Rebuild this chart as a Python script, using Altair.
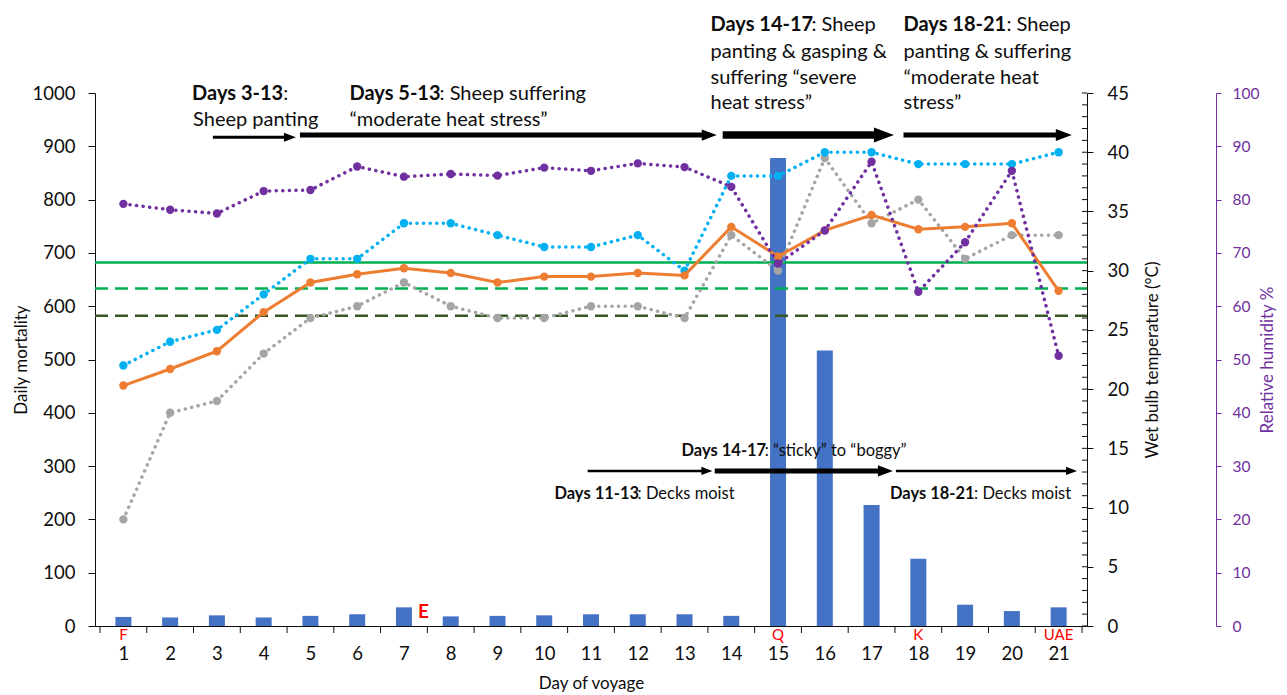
import altair as alt
import pandas as pd

FONT = "Lato"
BLACK = "#0d0d0d"
PURPLE = "#7030A0"

# ---------------- data ----------------
days = list(range(1, 22))
mortality = [17, 16, 20, 16, 19, 22, 35, 18, 19, 20, 22, 22, 22, 19, 878, 517, 227, 126, 40, 28, 35]
wb_cyan = [22, 24, 25, 28, 31, 31, 34, 34, 33, 32, 32, 33, 30, 38, 38, 40, 40, 39, 39, 39, 40]
wb_orange = [20.3, 21.7, 23.2, 26.5, 29.0, 29.7, 30.2, 29.8, 29.0, 29.5, 29.5, 29.8, 29.6,
             33.7, 31.2, 33.4, 34.7, 33.5, 33.7, 34.0, 28.3]
wb_gray = [9, 18, 19, 23, 26, 27, 29, 27, 26, 26, 27, 27, 26, 33, 30, 39.5, 34, 36, 31, 33, 33]
humidity = [79.2, 78.1, 77.4, 81.6, 81.8, 86.2, 84.3, 84.8, 84.5, 86.0, 85.4, 86.8, 86.1,
            82.4, 68.0, 74.2, 87.1, 62.7, 72.0, 85.4, 50.7]

threshold_values = [30.7, 28.5, 26.2]
threshold_colors = ["#00B050", "#00B050", "#385723"]
threshold_dashes = [[1, 0], [13, 7], [13, 7]]

temp_ticks = list(range(0, 46))
day_boundaries = [d - 0.5 for d in days] + [days[-1] + 0.5]

port_days = [1, 15, 18, 21]
port_labels = ["F", "Q", "K", "UAE"]
port_y = [-17, -17, -17, -17]
event_x = [7.42]
event_y = [26]
event_labels = ["E"]

# annotation texts (x in day units, y in mortality units)
top_bold_text = ["Days 3-13", "Days 5-13", "Days 14-17", "Days 18-21"]
top_bold_x = [2.47, 5.835, 13.555, 17.683]
top_bold_y = [998, 998, 1128, 1128]
top_bold_w = [91, 90, 101, 103]          # rendered width of the bold part, px

top_tail_text = [":", ": Sheep suffering", ": Sheep", ": Sheep"]

top_line_text = ["Sheep panting", "\u201cmoderate heat stress\u201d",
                 "panting & gasping &", "suffering \u201csevere", "heat stress\u201d",
                 "panting & suffering", "\u201cmoderate heat", "stress\u201d"]
top_line_x = [2.49, 5.835, 13.555, 13.555, 13.555, 17.683, 17.683, 17.683]
top_line_y = [949, 949, 1077, 1029, 981, 1077, 1029, 981]

bot_bold_text = ["Days 14-17", "Days 11-13", "Days 18-21"]
bot_bold_x = [12.935, 10.217, 17.393]
bot_bold_y = [328, 248, 248]
bot_bold_w = [83, 83, 84]
bot_tail_text = [": \u201csticky\u201d to \u201cboggy\u201d", ": Decks moist", ": Decks moist"]

arrow_x1 = [2.913, 4.776, 13.816, 17.683, 10.928, 13.646, 17.520]
arrow_x2 = [4.69, 13.689, 17.478, 21.282, 13.595, 17.457, 21.394]
arrow_y = [917, 921, 921, 921, 291, 291, 291]
arrow_w = [3, 5, 7.5, 5, 2.5, 5, 2.5]
arrow_head = [12, 15, 20, 16, 11, 15, 11]

# ---------------- frames ----------------
W, H = 992, 533
PX_PER_DAY = W / 21
df = pd.DataFrame({"day": days, "mort": mortality, "cyan": wb_cyan, "orange": wb_orange,
                   "gray": wb_gray, "hum": humidity})
arrows = pd.DataFrame({"x1": arrow_x1, "x2": arrow_x2, "y": arrow_y, "w": arrow_w,
                       "head": arrow_head})
arrows["xs"] = arrows["x2"] - arrows["head"] * 0.6 / PX_PER_DAY
arrows["hsize"] = arrows["head"] ** 2

xs = alt.Scale(domain=[0.5, 21.5], nice=False, zero=False)
ms = alt.Scale(domain=[0, 1000], nice=False)
ts = alt.Scale(domain=[0, 45], nice=False)
hs = alt.Scale(domain=[0, 100], nice=False)

x_axis = alt.Axis(values=days, title="Day of voyage", ticks=False, tickSize=0, labelPadding=18,
                  labelFontSize=18.5, labelFont=FONT, labelColor=BLACK, titleFont=FONT,
                  titleFontSize=17, titleFontWeight="normal", titleColor=BLACK, titlePadding=13,
                  domainColor=BLACK, domainWidth=1, grid=False, format="d", labelFlush=False)
m_axis = alt.Axis(values=list(range(0, 1001, 100)), title="Daily mortality", tickSize=7,
                  tickColor=BLACK, domainColor=BLACK, labelPadding=13, labelFontSize=18.5,
                  labelFont=FONT, labelColor=BLACK, titleFont=FONT, titleFontSize=17,
                  titleFontWeight="normal", titleColor=BLACK, titlePadding=2, grid=False,
                  format="d")
t_axis = alt.Axis(orient="right", values=list(range(0, 46, 5)), title="Wet bulb temperature (\u00b0C)",
                  tickSize=6, tickColor=BLACK, domainColor=BLACK, labelPadding=14, labelFontSize=18.5,
                  labelFont=FONT, labelColor=BLACK, titleFont=FONT, titleFontSize=17,
                  titleFontWeight="normal", titleColor=BLACK, titlePadding=33, titleAngle=270,
                  grid=False, format="d")
h_axis = alt.Axis(orient="right", offset=129, values=list(range(0, 101, 10)),
                  title="Relative humidity %", tickSize=5, tickColor=PURPLE, domainColor=PURPLE,
                  labelPadding=11, labelFontSize=15.5, labelFont=FONT, labelColor=PURPLE,
                  titleFont=FONT, titleFontSize=17, titleFontWeight="normal", titleColor=PURPLE,
                  titlePadding=18, titleAngle=270, grid=False, format="d")


def X(f):
    return alt.X(f, scale=xs, axis=x_axis)


def MY(f):
    return alt.Y(f, scale=ms, axis=m_axis)


# ---- mortality layer (bars + annotations) ----
bars = alt.Chart(df).mark_bar(size=16, color="#4472C4").encode(x=X("day:Q"), y=MY("mort:Q"))

xticks = alt.Chart(pd.DataFrame({"b": day_boundaries})).mark_rule(color=BLACK, strokeWidth=1).encode(
    x=X("b:Q"), y=alt.value(H), y2=alt.value(H + 7))

ports = alt.Chart(pd.DataFrame({"x": port_days, "y": port_y, "t": port_labels})).mark_text(
    font=FONT, fontSize=15, color="#FF0000", baseline="middle", align="center").encode(
    x=X("x:Q"), y=MY("y:Q"), text="t:N")
event = alt.Chart(pd.DataFrame({"x": event_x, "y": event_y, "t": event_labels})).mark_text(
    font=FONT, fontSize=19, fontWeight="bold", color="#FF0000", baseline="middle",
    align="center").encode(x=X("x:Q"), y=MY("y:Q"), text="t:N")

shafts = alt.Chart(arrows).mark_rule(color="#000000").encode(
    x=X("x1:Q"), x2="xs:Q", y=MY("y:Q"), strokeWidth=alt.StrokeWidth("w:Q", scale=None))
heads = alt.Chart(arrows).mark_point(
    shape="M-2,-0.75L0,0L-2,0.75Z", filled=True, color="#000000", opacity=1, strokeWidth=0).encode(
    x=X("x2:Q"), y=MY("y:Q"), size=alt.Size("hsize:Q", scale=None))


def texts(tx, xx, yy, size, bold):
    d = pd.DataFrame({"t": tx, "x": xx, "y": yy})
    return alt.Chart(d).mark_text(font=FONT, fontSize=size, color=BLACK, align="left",
                                  baseline="middle",
                                  fontWeight="bold" if bold else "normal").encode(
        x=X("x:Q"), y=MY("y:Q"), text="t:N")


top_tail_x = [x + (w + 1) / PX_PER_DAY for x, w in zip(top_bold_x, top_bold_w)]
bot_tail_x = [x + (w + 1) / PX_PER_DAY for x, w in zip(bot_bold_x, bot_bold_w)]

top_b = texts(top_bold_text, top_bold_x, top_bold_y, 20, True)
top_t = texts(top_tail_text, top_tail_x, top_bold_y, 20, False)
top_l = texts(top_line_text, top_line_x, top_line_y, 20, False)
bot_b = texts(bot_bold_text, bot_bold_x, bot_bold_y, 16.5, True)
bot_t = texts(bot_tail_text, bot_tail_x, bot_bold_y, 16.5, False)

mort_layer = alt.layer(bars, xticks, ports, event, shafts, heads, top_b, top_t, top_l, bot_b, bot_t)

# ---- temperature layer ----
ticks = alt.Chart(pd.DataFrame({"t": temp_ticks})).mark_rule(color=BLACK, strokeWidth=1).encode(
    x=alt.value(W - 5), x2=alt.value(W), y=alt.Y("t:Q", scale=ts, axis=t_axis))

thr_layers = []
for v, c, d in zip(threshold_values, threshold_colors, threshold_dashes):
    thr_layers.append(
        alt.Chart(pd.DataFrame({"v": [v]})).mark_rule(color=c, strokeWidth=2.5, strokeDash=d).encode(
            x=alt.value(0), x2=alt.value(W), y=alt.Y("v:Q", scale=ts, axis=t_axis)))


def series(col, color, dotted, scale, axis, width=3):
    if dotted:
        ln = alt.Chart(df).mark_line(color=color, strokeWidth=3.5, strokeDash=[0.1, 6.5],
                                     strokeCap="round")
    else:
        ln = alt.Chart(df).mark_line(color=color, strokeWidth=width)
    ln = ln.encode(x=X("day:Q"), y=alt.Y(f"{col}:Q", scale=scale, axis=axis))
    pt = alt.Chart(df).mark_circle(color=color, size=70, opacity=1).encode(
        x=X("day:Q"), y=alt.Y(f"{col}:Q", scale=scale, axis=axis))
    return [ln, pt]


temp_layer = alt.layer(ticks, *thr_layers,
                       *series("gray", "#A5A5A5", True, ts, t_axis),
                       *series("cyan", "#00B0F0", True, ts, t_axis),
                       *series("orange", "#ED7D31", False, ts, t_axis))

hum_layer = alt.layer(*series("hum", PURPLE, True, hs, h_axis))

chart = alt.layer(mort_layer, temp_layer, hum_layer).resolve_scale(y="independent").properties(
    width=W, height=H,
    autosize=alt.AutoSizeParams(type="none"),
    padding={"left": 87, "top": 85, "right": 192, "bottom": 69},
).configure_view(stroke=None)

chart.save("out.html", embed_options={"renderer": "svg", "actions": False})
